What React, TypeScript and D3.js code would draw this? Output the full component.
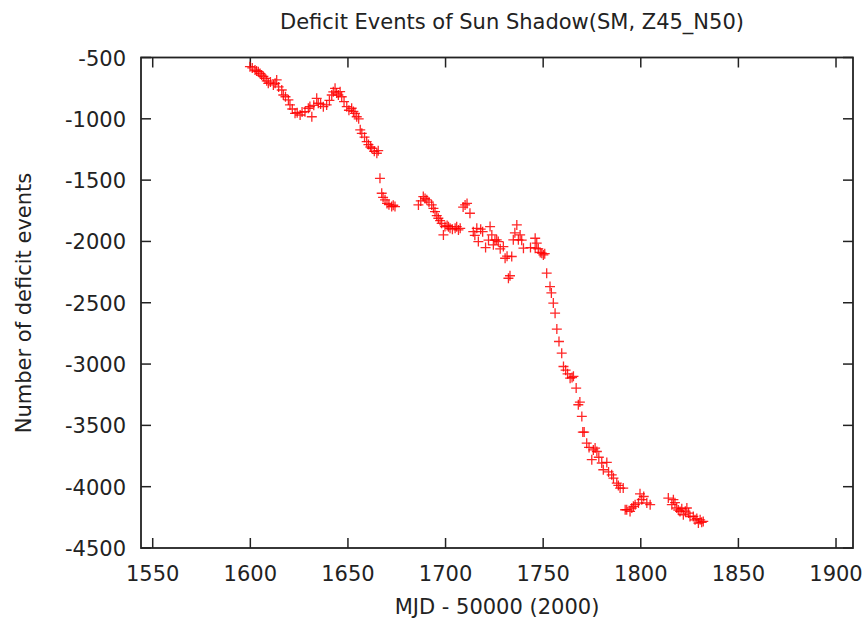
import React from "react";
import * as d3 from "d3";

const TITLE = "Deficit Events of Sun Shadow(SM, Z45_N50)";
const X_LABEL = "MJD - 50000 (2000)";
const Y_LABEL = "Number of deficit events";
const X_TICKS = [1550, 1600, 1650, 1700, 1750, 1800, 1850, 1900];
const Y_TICKS = [-500, -1000, -1500, -2000, -2500, -3000, -3500, -4000, -4500];
const X_DOMAIN = [1544, 1908.7];
const Y_DOMAIN = [-4500, -500];

const MJD: number[] = [
  1599.8, 1601, 1602.4, 1603.2, 1604.1, 1605, 1605.8, 1606.7, 1607.5, 1608.4, 1609.2, 1610.3, 1611.8, 1612.7, 1613.5, 1614.5,
  1616.1, 1616.9, 1618, 1619.5, 1620.3, 1621.5, 1622.9, 1624, 1625.5, 1626.5, 1628, 1629.7, 1630.5, 1631.5, 1632.5, 1634,
  1634.8, 1636, 1637.4, 1639.1, 1640.5, 1641.7, 1642.5, 1643.4, 1644.2, 1645.1, 1646, 1646.8, 1648, 1649.4, 1650.5, 1651.9,
  1652.8, 1653.6, 1654.5, 1655.5, 1656.3, 1657.1, 1658.5, 1659.6, 1660.5, 1661.5, 1662.2, 1663.5, 1664.8, 1665.5,
  1666.4, 1667.3, 1668, 1669, 1670, 1671, 1672.4, 1673.2, 1674.1,
  1686.1, 1687.3, 1688.6, 1689.5, 1690.4, 1691.5, 1692.9, 1693.8, 1694.6, 1695.5, 1696.3, 1697.2, 1698, 1698.9, 1699.7,
  1700.8, 1701.5, 1702.3, 1703.5, 1704.9, 1705.7, 1706.6, 1707.5,
  1709, 1710, 1711, 1712.5, 1714.2, 1715, 1716, 1716.8, 1718, 1719, 1720.5, 1722, 1722.8, 1723.7, 1724.5, 1725.3, 1726.2,
  1727, 1728, 1729.6, 1730.5, 1731.5, 1732.2, 1733, 1733.9, 1734.7, 1735.5, 1736.5, 1737.3, 1738.2, 1739, 1739.9, 1743.5,
  1745.9, 1746.7, 1745.9, 1747.5, 1748.5, 1749.3, 1750.1, 1750.8,
  1751.8, 1753.5, 1754.2, 1755.2, 1756.1, 1757, 1758.1, 1759.5, 1760.4, 1761.5, 1762.5, 1763.8, 1764.8, 1765.5, 1766.9,
  1768, 1768.8, 1769.8, 1770.3, 1771, 1772.3, 1773.5, 1774.9, 1775.7, 1776.6, 1777.5, 1778.5, 1780, 1780.8, 1782.6,
  1783.5, 1785.1, 1786, 1787.7, 1788.5, 1789.4, 1791,
  1792, 1792.8, 1794.5, 1795.4, 1796.2, 1797.1, 1798.8, 1799.6, 1800.5, 1801.5, 1803.1, 1804.8,
  1814.1, 1815.9, 1816.7, 1817.5, 1818.4, 1819.2, 1820.1, 1821, 1821.8, 1822.8, 1823.6, 1824.5, 1825.2, 1826.9, 1827.8,
  1828.7, 1829.5, 1830.4, 1831.2, 1832,
];

const DEFICIT: number[] = [
  -575, -585, -602, -610, -616, -630, -643, -655, -670, -690, -711, -700, -724, -711, -683, -740,
  -765, -806, -820, -846, -887, -920, -955, -950, -969, -945, -942, -914, -900, -983, -890, -833,
  -873, -880, -901, -887, -850, -806, -780, -751, -790, -806, -779, -820, -860, -901, -930, -914,
  -940, -955, -983, -1000, -1090, -1118, -1150, -1186, -1210, -1230, -1240, -1265, -1281, -1260,
  -1485, -1607, -1640, -1661, -1690, -1700, -1716, -1705, -1716,
  -1702, -1670, -1634, -1650, -1661, -1680, -1702, -1730, -1757, -1790, -1811, -1830, -1852, -1947, -1879,
  -1870, -1880, -1893, -1900, -1893, -1880, -1906, -1893,
  -1720, -1702, -1690, -1770, -1920, -1950, -1893, -2001, -1900, -1920, -2050, -1990, -1879, -1947, -2028, -1990, -1987,
  -2001, -2060, -2042, -2137, -2120, -2300, -2280, -2123, -1987, -1930, -1865, -1987, -1947, -1990, -2055, -2050,
  -1974, -2014, -2055, -2060, -2090, -2096, -2110, -2100,
  -2259, -2368, -2420, -2503, -2585, -2715, -2816, -2911, -3020, -3050, -3080, -3115, -3110, -3100, -3196,
  -3332, -3310, -3427, -3555, -3555, -3645, -3680, -3780, -3700, -3685, -3713, -3760, -3807, -3862, -3802,
  -3880, -3903, -3930, -3971, -3990, -4011, -4011,
  -4188, -4188, -4202, -4174, -4160, -4147, -4133, -4058, -4106, -4080, -4133, -4147,
  -4093, -4147, -4106, -4130, -4174, -4190, -4202, -4180, -4229, -4200, -4174, -4215, -4243, -4243, -4270,
  -4260, -4297, -4270, -4290, -4283,
];

const W = 865;
const H = 628;
const LEFT = 141;
const RIGHT = 853;
const TOP = 57.5;
const BOTTOM = 548;
const FONT = "'DejaVu Sans', sans-serif";
const FS = 21;
const TICK = 10;

export default function App() {
  const x = d3.scaleLinear().domain(X_DOMAIN).range([LEFT, RIGHT]);
  const y = d3.scaleLinear().domain(Y_DOMAIN).range([BOTTOM, TOP]);
  const pts = MJD.map((m, i) => ({ m, v: DEFICIT[i] }));
  const r = 5;
  return (
    <svg
      width={W}
      height={H}
      style={{ position: "absolute", left: 0, top: 0, background: "#fff" }}
      fontFamily={FONT}
    >
      <rect x={0} y={0} width={W} height={H} fill="#fff" />
      <text x={512} y={22} fontSize={FS} textAnchor="middle" dominantBaseline="central" fill="#222">
        {TITLE}
      </text>
      {/* ticks */}
      {X_TICKS.map((t) => (
        <g key={"x" + t}>
          <line x1={x(t)} x2={x(t)} y1={BOTTOM} y2={BOTTOM - TICK} stroke="#222" strokeWidth={1.5} />
          <line x1={x(t)} x2={x(t)} y1={TOP} y2={TOP + TICK} stroke="#222" strokeWidth={1.5} />
          <text x={x(t)} y={574} fontSize={FS} textAnchor="middle" dominantBaseline="central" fill="#222">
            {t}
          </text>
        </g>
      ))}
      {Y_TICKS.map((t) => (
        <g key={"y" + t}>
          <line x1={LEFT} x2={LEFT + TICK} y1={y(t)} y2={y(t)} stroke="#222" strokeWidth={1.5} />
          <line x1={RIGHT} x2={RIGHT - TICK} y1={y(t)} y2={y(t)} stroke="#222" strokeWidth={1.5} />
          <text x={126} y={y(t) + 1} fontSize={FS} textAnchor="end" dominantBaseline="central" fill="#222">
            {t}
          </text>
        </g>
      ))}
      <rect
        x={LEFT}
        y={TOP}
        width={RIGHT - LEFT}
        height={BOTTOM - TOP}
        fill="none"
        stroke="#222"
        strokeWidth={1.8}
      />
      <g stroke="#ff0000" strokeWidth={1.3} strokeOpacity={0.85}>
        {pts.map((p, i) => (
          <path
            key={i}
            d={`M${x(p.m) - r},${y(p.v)}H${x(p.m) + r}M${x(p.m)},${y(p.v) - r}V${y(p.v) + r}`}
          />
        ))}
      </g>
      <text x={497} y={607} fontSize={FS} textAnchor="middle" dominantBaseline="central" fill="#222">
        {X_LABEL}
      </text>
      <text
        transform={`translate(24,303) rotate(-90)`}
        fontSize={FS}
        textAnchor="middle"
        dominantBaseline="central"
        fill="#222"
      >
        {Y_LABEL}
      </text>
    </svg>
  );
}
